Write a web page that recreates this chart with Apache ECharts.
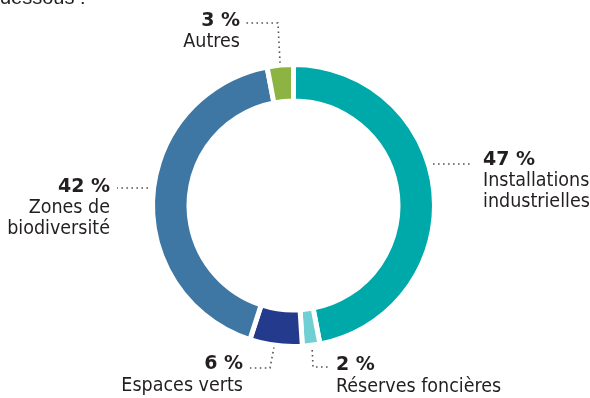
<!DOCTYPE html>
<html>
<head>
<meta charset="utf-8">
<script src="https://cdn.jsdelivr.net/npm/echarts@6/dist/echarts.min.js"></script>
<style>
  html, body { margin: 0; padding: 0; background: #ffffff; }
  #chart { width: 590px; height: 398px; }
</style>
</head>
<body>
<div id="chart"></div>
<script>
// Land use breakdown, clockwise from the top
const categories = ['Installations\nindustrielles', 'Réserves foncières', 'Espaces verts', 'Zones de\nbiodiversité', 'Autres'];
const shares = [47, 2, 6, 42, 3];
const colors = ['#00a9a9', '#6fcfd3', '#243a8d', '#3e77a3', '#8db443'];

// Where each label block sits and how its dotted leader bends
const labelSpots = [
  { x: 483, y: 149.5, align: 'left',  line: [[433, 164], [473, 164]] },
  { x: 336, y: 355,   align: 'left',  line: [[312, 345], [313, 367], [328, 367]] },
  { x: 243, y: 354,   align: 'right', line: [[274, 347], [270, 368], [250, 368]] },
  { x: 110, y: 176.5, align: 'right', line: [[153, 188], [117, 188]] },
  { x: 240, y: 10.5,  align: 'right', line: [[280, 63], [278, 23], [246, 23]] }
];

const TEXT = '#231f20';
const NAME_FONT = '"DejaVu Sans Condensed", Roboto, "Liberation Sans", sans-serif';
const chart = echarts.init(document.getElementById('chart'), null, { renderer: 'canvas' });

chart.setOption({
  animation: false,
  backgroundColor: '#ffffff',
  graphic: [{
    type: 'text',
    x: 0,
    y: 8,
    style: {
      text: 'dessous :',
      font: '20px "Liberation Sans", Arial, sans-serif',
      fill: TEXT,
      verticalAlign: 'bottom'
    }
  }],
  series: [{
    type: 'pie',
    center: [293.5, 205.5],
    radius: [104.5, 141],
    startAngle: 90,
    clockwise: true,
    avoidLabelOverlap: false,
    itemStyle: { borderColor: '#ffffff', borderWidth: 5 },
    emphasis: { disabled: true },
    label: {
      show: true,
      position: 'outside',
      color: TEXT,
      formatter: p => `{v|${p.value} %}\n{n|${p.name}}`,
      rich: {
        v: { fontFamily: '"DejaVu Sans", sans-serif', fontWeight: 'bold', fontSize: 19, lineHeight: 21, color: TEXT },
        n: { fontFamily: NAME_FONT, fontSize: 19.5, lineHeight: 21, color: TEXT }
      }
    },
    labelLine: {
      show: true,
      smooth: false,
      lineStyle: { color: '#555555', width: 1.6, type: [1.6, 3.4] }
    },
    labelLayout: params => {
      const s = labelSpots[params.dataIndex];
      return { x: s.x, y: s.y, align: s.align, verticalAlign: 'top', labelLinePoints: s.line };
    },
    data: categories.map((name, i) => ({
      name,
      value: shares[i],
      itemStyle: { color: colors[i] },
      label: { align: labelSpots[i].align }
    }))
  }]
});
</script>
</body>
</html>
